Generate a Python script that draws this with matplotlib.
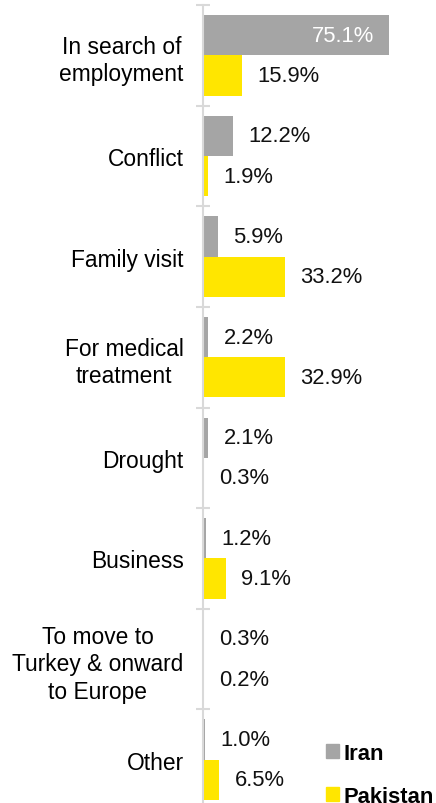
import numpy as np
import matplotlib.pyplot as plt
from matplotlib.patches import Patch

plt.rcParams['font.family'] = ['Liberation Sans', 'DejaVu Sans']

# Reasons for leaving, share of respondents (%)
categories = ["In search of\nemployment", "Conflict", "Family visit",
              "For medical\ntreatment", "Drought", "Business",
              "To move to\nTurkey & onward\nto Europe", "Other"]
iran = [75.1, 12.2, 5.9, 2.2, 2.1, 1.2, 0.3, 1.0]
pakistan = [15.9, 1.9, 33.2, 32.9, 0.3, 9.1, 0.2, 6.5]

grey = "#a5a5a5"
yellow = "#ffe600"
fs = 15.8

fig = plt.figure(figsize=(4.36, 8.04), dpi=100)
ax = fig.add_axes([203 / 436, -7 / 804, 198.4 / 436, 805 / 804])

y = np.arange(len(categories))
h = 0.4
ax.barh(y - h / 2, iran, height=h, color=grey)
ax.barh(y + h / 2, pakistan, height=h, color=yellow)

ax.set_xlim(0, 80)
ax.set_ylim(len(categories) - 0.5, -0.5)

# value labels beside each bar (the long one sits inside, in white)
for yi, v in zip(y, iran):
    if v > 50:
        ax.annotate(f"{v:.1f}%", (v, yi - h / 2), xytext=(-11, 0),
                    textcoords="offset points", ha="right", va="center",
                    color="white", fontsize=fs)
    else:
        ax.annotate(f"{v:.1f}%", (v, yi - h / 2), xytext=(11, 0),
                    textcoords="offset points", ha="left", va="center",
                    color="#111111", fontsize=fs)
for yi, v in zip(y, pakistan):
    ax.annotate(f"{v:.1f}%", (v, yi + h / 2), xytext=(11, 0),
                textcoords="offset points", ha="left", va="center",
                color="#111111", fontsize=fs)

# category labels centred on groups, ticks on group boundaries
ax.set_yticks(y)
ax.set_yticklabels(categories, fontsize=16.4)
for lab in ax.get_yticklabels():
    lab.set_multialignment("center")
    lab.set_linespacing(1.25)
ax.tick_params(axis="y", which="major", length=0, pad=14)
ax.set_yticks(np.arange(-0.5, len(categories) + 0.5), minor=True)
ax.tick_params(axis="y", which="minor", length=10, width=1.5,
               direction="inout", color="#d9d9d9")

for s in ["top", "right", "bottom"]:
    ax.spines[s].set_visible(False)
ax.spines["left"].set_color("#d9d9d9")
ax.spines["left"].set_linewidth(1.5)
ax.xaxis.set_visible(False)

handles = [Patch(color=grey, label="Iran"), Patch(color=yellow, label="Pakistan")]
leg = fig.legend(handles=handles, loc="upper left",
                 bbox_to_anchor=(306 / 436, 1 - 724 / 804), frameon=False,
                 handlelength=0.6, handleheight=0.6, handletextpad=0.2,
                 labelspacing=1.0, prop={"size": fs, "weight": "bold"})

fig.savefig("out.png", dpi=100)
